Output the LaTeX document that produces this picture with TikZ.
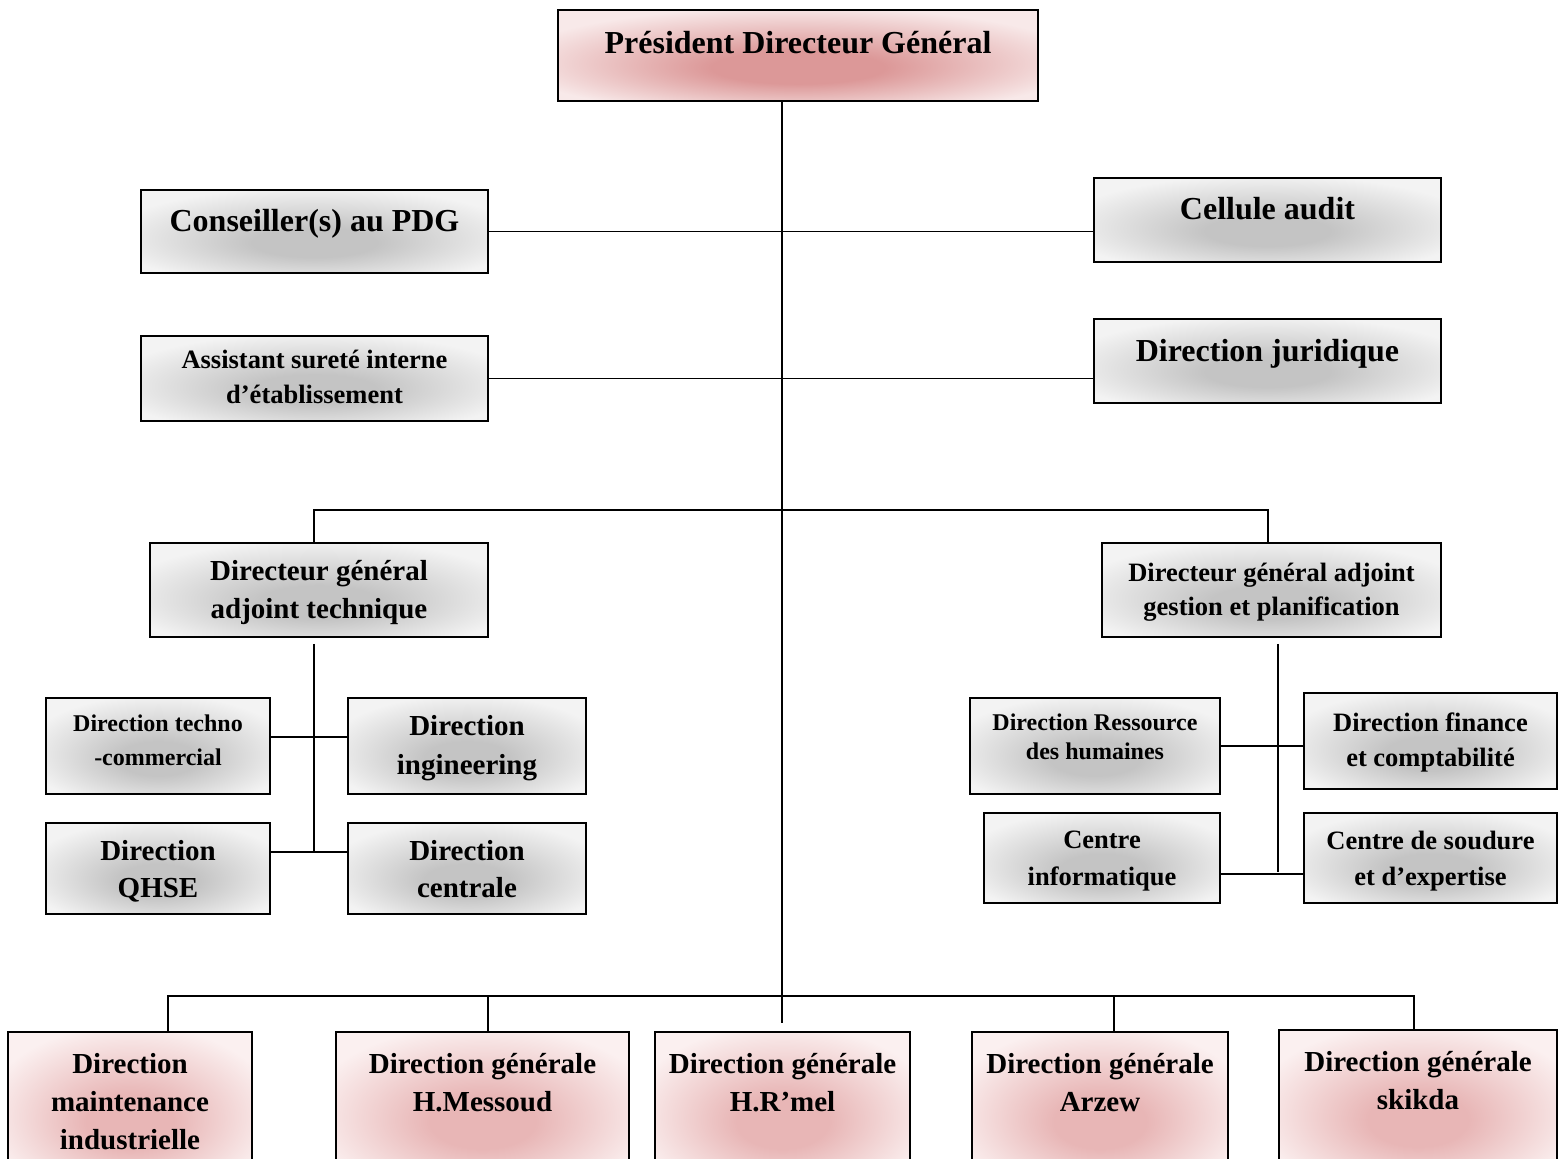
\documentclass[tikz,border=0pt]{standalone}
\usepackage{fontspec}
\setmainfont{Liberation Serif}
\definecolor{pinkout}{RGB}{248,233,233}
\definecolor{pinkin}{RGB}{220,152,152}
\definecolor{pinkinlight}{RGB}{232,182,182}
\definecolor{pinkoutlight}{RGB}{251,240,240}
\definecolor{grayout}{RGB}{243,243,243}
\definecolor{grayin}{RGB}{196,196,196}
% soft glow, a little below the middle of the box
\pgfdeclareradialshading{grayglow}{\pgfpoint{0bp}{-8bp}}{color(0bp)=(grayin); color(9bp)=(grayin); color(30bp)=(grayout); color(50bp)=(grayout)}
\pgfdeclareradialshading{pinkglow}{\pgfpoint{0bp}{-8bp}}{color(0bp)=(pinkin); color(9bp)=(pinkin); color(30bp)=(pinkout); color(50bp)=(pinkout)}
\pgfdeclareradialshading{pinkglowlight}{\pgfpoint{0bp}{-6bp}}{color(0bp)=(pinkinlight); color(9bp)=(pinkinlight); color(30bp)=(pinkoutlight); color(50bp)=(pinkoutlight)}
\tikzset{
	box/.style={
		draw,
		rectangle,
		line width=1.8pt,
		align=center,
		inner sep=2pt
	},
	graybox/.style={box, shade, shading=grayglow},
	pinkbox/.style={box, shade, shading=pinkglow},
	dirbox/.style={box, shade, shading=pinkglowlight, fs={29}{38}, minimum height=150pt},
	fs/.style 2 args={font=\fontsize{#1}{#2}\selectfont\bfseries}
}

\begin{document}
\begin{tikzpicture}[x=1pt, y=-1pt]
	\tikzset{edge/.style={line width=1.8pt}}
	\useasboundingbox (0,0) rectangle (1558,1159);
	
	\node(pdg) at (798,55.5) [pinkbox, fs={32}{38}, minimum width=480pt, minimum height=91pt, text depth=27pt] {Président Directeur Général};
	
	\node(cons) at (314.5,231.5) [graybox, fs={32}{38}, minimum width=347pt, minimum height=83pt, text depth=23pt] {Conseiller(s) au PDG};
	\node(audit) at (1267.5,220) [graybox, fs={32}{38}, minimum width=347pt, minimum height=84pt, text depth=24pt] {Cellule audit};
	\node(asst) at (314.5,378.5) [graybox, fs={26.5}{35}, minimum width=347pt, minimum height=85pt, text depth=4pt] {Assistant sureté interne\\d’établissement};
	\node(jur) at (1267.5,361) [graybox, fs={32}{38}, minimum width=347pt, minimum height=84pt, text depth=22pt] {Direction juridique};
	
	\node(dgat) at (319,590) [graybox, fs={29}{38}, minimum width=338pt, minimum height=94pt, text depth=2pt] {Directeur général\\adjoint technique};
	\node(dgag) at (1271.5,590) [graybox, fs={26.5}{34}, minimum width=339pt, minimum height=94pt, text depth=2pt] {Directeur général adjoint\\gestion et planification};
	
	\node(techno) at (158,746) [graybox, fs={24}{34}, minimum width=224pt, minimum height=96pt, text depth=12pt] {Direction techno\\-commercial};
	\node(ingin) at (467,746) [graybox, fs={29}{39}, minimum width=238pt, minimum height=96pt, text depth=2pt] {Direction\\ingineering};
	\node(qhse) at (158,868.5) [graybox, fs={29}{37}, minimum width=224pt, minimum height=91pt, text depth=0pt] {Direction\\QHSE};
	\node(centr) at (467,868.5) [graybox, fs={29}{37}, minimum width=238pt, minimum height=91pt, text depth=0pt] {Direction\\centrale};
	
	\node(ress) at (1095,746) [graybox, fs={24}{29}, minimum width=250pt, minimum height=96pt, text depth=18pt] {Direction Ressource\\des humaines};
	\node(fin) at (1430.5,741) [graybox, fs={26.5}{35}, minimum width=253pt, minimum height=96pt, text depth=2pt] {Direction finance\\et comptabilité};
	\node(info) at (1102,858) [graybox, fs={26.5}{37}, minimum width=236pt, minimum height=90pt, text depth=0pt] {Centre\\informatique};
	\node(soud) at (1430.5,858) [graybox, fs={26.5}{36}, minimum width=253pt, minimum height=90pt, text depth=0pt] {Centre de soudure\\et d’expertise};
	
	% directions generales (bas)
	\node(maint) at (130,1107) [dirbox, minimum width=244pt, text depth=12pt] {Direction\\maintenance\\industrielle};
	\node(mess) at (482.5,1107) [dirbox, minimum width=293pt, text depth=50pt] {Direction générale\\H.Messoud};
	\node(rmel) at (782.5,1107) [dirbox, minimum width=255pt, text depth=50pt] {Direction générale\\H.R’mel};
	\node(arz) at (1100,1107) [dirbox, minimum width=256pt, text depth=50pt] {Direction générale\\Arzew};
	\node(skik) at (1418,1105) [dirbox, minimum width=278pt, text depth=50pt] {Direction générale\\skikda};
	
	\coordinate(trunkend) at (782,1023);
	\draw[edge] (pdg.south -| trunkend) -- (trunkend);
	\draw[edge] (cons.east) -- (cons.east -| audit.west);
	\draw[edge] (asst.east) -- (asst.east -| jur.west);
	
	\draw[edge] ([xshift=-5pt]dgat.north) -- ++(0,-32) -| ([xshift=-3.5pt]dgag.north);
	\draw[edge] ([xshift=-5pt,yshift=-6pt]dgat.south) -- ++(0,208);
	\draw[edge] ([yshift=9pt]techno.east) -- ([yshift=9pt]ingin.west);
	\draw[edge] ([yshift=16.5pt]qhse.east) -- ([yshift=16.5pt]centr.west);
	\draw[edge] ([xshift=6.5pt,yshift=-6pt]dgag.south) -- ++(0,228);
	\draw[edge] (ress.east) -- (ress.east -| fin.west);
	\draw[edge] ([yshift=-16pt]info.east) -- ([yshift=-16pt]soud.west);
	
	\draw[edge] ([xshift=38pt]maint.north) -- ++(0,-35) -| ([xshift=-4pt]skik.north);
	\draw[edge] ([xshift=5.5pt]mess.north) -- ++(0,-35);
	\draw[edge] ([xshift=14pt]arz.north) -- ++(0,-35);
\end{tikzpicture}
\end{document}
